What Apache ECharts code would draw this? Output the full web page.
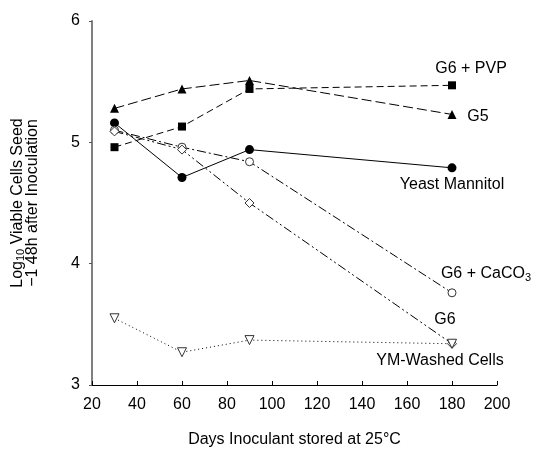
<!DOCTYPE html>
<html>
<head>
<meta charset="utf-8">
<script src="https://cdn.jsdelivr.net/npm/echarts@6/dist/echarts.min.js"></script>
<style>
  html, body { margin: 0; padding: 0; background: #fff; }
  #chart { width: 534px; height: 453px; }
</style>
</head>
<body>
<div id="chart"></div>
<script>
// Days of storage at which viable cells were counted
const days = [30, 60, 90, 180];

// Log10 viable cells per seed, 1–48 h after inoculation
const g6Pvp        = [4.96, 5.13, 5.44, 5.47];
const g5           = [5.28, 5.44, 5.51, 5.23];
const yeastMannitol= [5.16, 4.71, 4.94, 4.79];
const g6Caco3      = [5.10, 4.96, 4.84, 3.76];
const g6           = [5.09, 4.94, 4.50, 3.34];
const ymWashed     = [3.55, 3.27, 3.37, 3.34];

const xTicks = [20, 40, 60, 80, 100, 120, 140, 160, 180, 200];
const yTicks = [3, 4, 5, 6];

const FONT = '"Liberation Sans", Arial, sans-serif';

function pairs(vals) {
  return days.map((d, i) => [d, vals[i]]);
}

// Attach the series name as a label on the last point only
function withEndLabel(vals, text, offset, rich) {
  const data = pairs(vals);
  const last = data.length - 1;
  data[last] = {
    value: data[last],
    label: {
      show: true,
      position: 'inside',
      align: 'center',
      verticalAlign: 'middle',
      offset: offset,
      formatter: text,
      color: '#000',
      fontSize: 16,
      fontFamily: FONT,
      rich: rich || {}
    }
  };
  return data;
}

function lineSeries(name, data, dash, symbol, size, filled, extra) {
  return Object.assign({
    name: name,
    type: 'line',
    data: data,
    symbol: symbol,
    symbolSize: size,
    showSymbol: true,
    z: 3,
    lineStyle: { color: '#000', width: 1, type: dash },
    itemStyle: filled
      ? { color: '#000', borderColor: '#000', borderWidth: 0 }
      : { color: '#fff', borderColor: '#333', borderWidth: 1 },
    label: { show: false },
    emphasis: { disabled: true },
    animation: false
  }, extra || {});
}

const chart = echarts.init(document.getElementById('chart'), null, { renderer: 'canvas' });

chart.setOption({
  backgroundColor: '#fff',
  animation: false,
  grid: { left: 92, right: 37, top: 21, bottom: 67, containLabel: false },
  xAxis: {
    type: 'value',
    min: 20,
    max: 200,
    interval: 20,
    name: 'Days Inoculant stored at 25°C',
    nameLocation: 'middle',
    nameGap: 47,
    nameTextStyle: { color: '#000', fontSize: 16, fontFamily: FONT },
    axisLine: { show: true, onZero: false, lineStyle: { color: '#000', width: 1 } },
    axisTick: { show: true, inside: true, length: 4, lineStyle: { color: '#000' } },
    axisLabel: {
      color: '#000', fontSize: 16, fontFamily: FONT, margin: 12,
      formatter: v => xTicks.includes(v) ? String(v) : ''
    },
    splitLine: { show: false }
  },
  yAxis: {
    type: 'value',
    min: 3,
    max: 6,
    interval: 1,
    name: '{n|Log}{s|10}{n| Viable Cells Seed}\n{n|\u22121 48h after Inoculation}',
    nameLocation: 'middle',
    nameGap: 52,
    nameTextStyle: {
      color: '#000', fontSize: 16, fontFamily: FONT, lineHeight: 15,
      rich: {
        n: { fontSize: 16, fontFamily: FONT, color: '#000', lineHeight: 15 },
        s: { fontSize: 11, fontFamily: FONT, color: '#000', lineHeight: 15, padding: [6, 0, 0, 0] }
      }
    },
    axisLine: { show: true, lineStyle: { color: '#808080', width: 2 } },
    axisTick: { show: true, inside: false, length: 3, lineStyle: { color: '#555' } },
    axisLabel: {
      color: '#000', fontSize: 16, fontFamily: FONT, margin: 12,
      formatter: v => yTicks.includes(v) ? String(v) : ''
    },
    splitLine: { show: false }
  },
  series: [
    lineSeries('G6 + PVP', withEndLabel(g6Pvp, 'G6 + PVP', [19, -17]),
      [7, 4], 'rect', 8, true),
    lineSeries('G5', withEndLabel(g5, 'G5', [26, 2]),
      [10, 4], 'triangle', 9, true),
    lineSeries('Yeast Mannitol', withEndLabel(yeastMannitol, 'Yeast Mannitol', [0, 17]),
      'solid', 'circle', 9, true),
    lineSeries('G6 + CaCO3',
      withEndLabel(g6Caco3, '{a|G6 + CaCO}{b|3}', [34, -19], {
        a: { fontSize: 16, fontFamily: FONT, color: '#000' },
        b: { fontSize: 11, fontFamily: FONT, color: '#000', padding: [8, 0, 0, 0] }
      }),
      [9, 3, 2, 3], 'circle', 8, false),
    lineSeries('G6', withEndLabel(g6, 'G6', [-7, -24]),
      [9, 3, 2, 3, 2, 3], 'diamond', 9, false),
    lineSeries('YM-Washed Cells', withEndLabel(ymWashed, 'YM-Washed Cells', [-12, 17]),
      [1, 3], 'triangle', 9, false, { symbolRotate: 180 })
  ]
});
</script>
</body>
</html>
